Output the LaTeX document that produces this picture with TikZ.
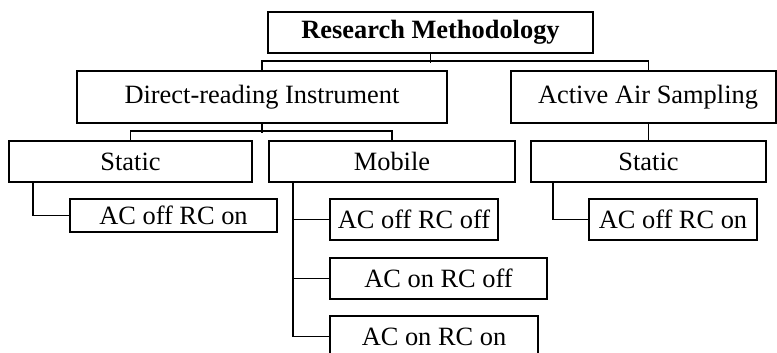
\documentclass[tikz,border=0pt]{standalone}
\usepackage{fontspec}
\setmainfont{Liberation Serif}
\begin{document}
\begin{tikzpicture}[x=1pt,y=-1pt,
  box/.style={draw,line width=1.9pt,rectangle,inner sep=0pt,font=\fontsize{26.4}{30}\selectfont},
  conn/.style={line width=1.9pt}]
\useasboundingbox (0,0) rectangle (777,353);
\clip (0,0) rectangle (777,353);
% boxes
\node[box,minimum width=325,minimum height=41] (root) at (430.5,32.5) {\bfseries Research Methodology};
\node[box,minimum width=370,minimum height=52] (dri) at (262,97) {Direct-reading Instrument};
\node[box,minimum width=265,minimum height=52] (aas) at (643.5,97) {\hspace*{9pt}Active Air Sampling};
\node[box,minimum width=243,minimum height=41] (st1) at (130.5,161.5) {Static};
\node[box,minimum width=246,minimum height=41] (mob) at (392,161.5) {Mobile};
\node[box,minimum width=235,minimum height=41] (st2) at (648.5,161.5) {Static};
\node[box,minimum width=207,minimum height=33] (c1) at (173.5,215.5) {AC off RC on};
\node[box,minimum width=168,minimum height=41] (m1) at (414,219.5) {AC off RC off};
\node[box,minimum width=217,minimum height=41] (m2) at (438.5,278.5) {AC on RC off};
\node[box,minimum width=208,minimum height=41] (m3) at (434,336.5) {AC on RC on};
\node[box,minimum width=168,minimum height=41] (c2) at (673,219.5) {AC off RC on};
% connectors
\draw[conn] (root.south) -- ++(0,9);
\draw[conn] (dri.north) -- ++(0,-9) -| (st2.north |- aas.north);
\draw[conn] (dri.south) -- ++(0,9);
\draw[conn] (st1.north) -- ++(0,-9) -| (mob.north);
\draw[conn] (st2.north) -- (st2.north |- aas.south);
\draw[conn] ([xshift=25pt]st1.south west) |- (c1.west);
\draw[conn] ([xshift=25pt]mob.south west) coordinate (trunk) |- (m3.west);
\draw[conn] (m1.west) -- (m1.west -| trunk);
\draw[conn] (m2.west) -- (m2.west -| trunk);
\draw[conn] ([xshift=23pt]st2.south west) |- (c2.west);
\end{tikzpicture}
\end{document}
